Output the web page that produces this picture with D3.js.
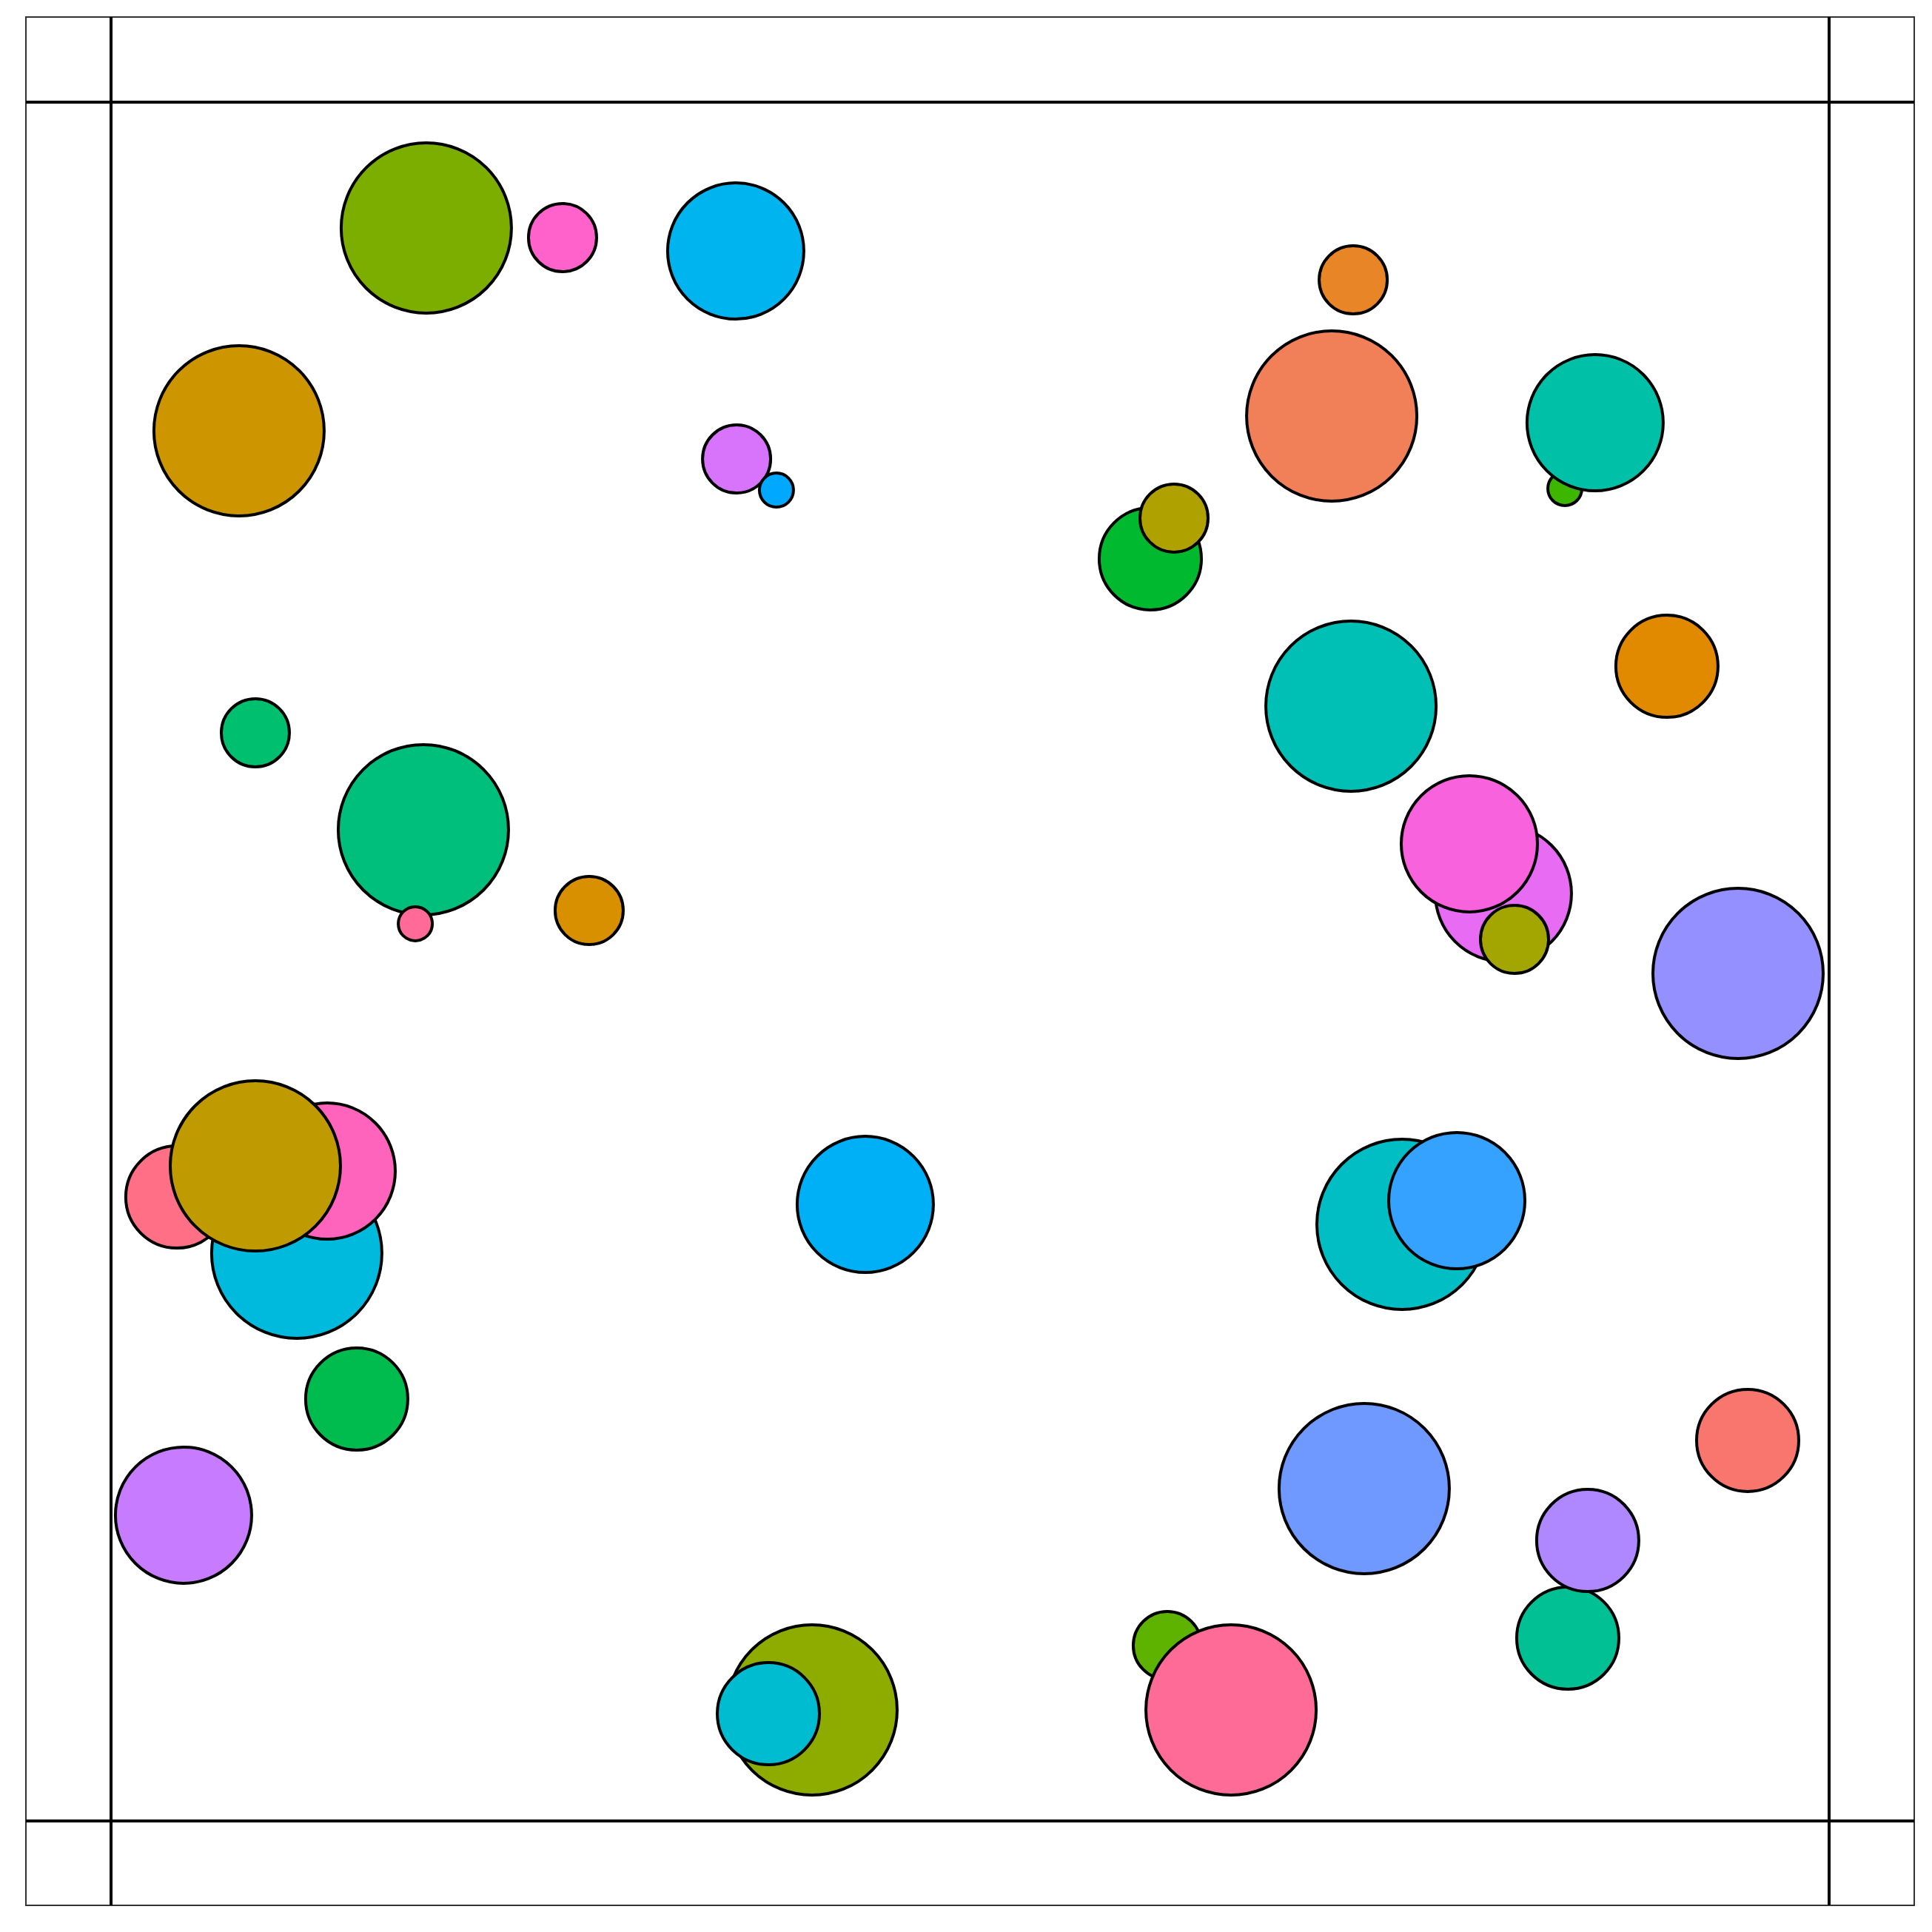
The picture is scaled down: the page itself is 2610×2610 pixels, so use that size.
<!DOCTYPE html>
<html>
<head>
<meta charset="utf-8">
<script src="https://cdn.jsdelivr.net/npm/d3@7"></script>
<style>
  html, body { margin: 0; padding: 0; background: #fff; }
  svg { display: block; }
</style>
</head>
<body>
<div id="chart"></div>
<script>
// ---- data ----
const ids = d3.range(1, 40).map(i => "p" + i);
const xValues = [18.35, 26.28, 36.36, 72.30, 7.45, 71.05, 84.62, 86.38, 36.41, 38.73,
                 60.49, 61.87, 90.56, 72.17, 8.40, 18.18, 17.71, 27.83, 81.04, 79.06,
                 81.69, 94.70, 3.83, 10.81, 12.58, 8.40, 43.90, 75.14, 78.33, 14.30,
                 4.22, 72.94, 95.26, 84.79, 85.95, 61.48, 65.19, 40.80, 38.26];
const yValues = [92.68, 92.12, 91.34, 89.66, 80.88, 81.74, 77.52, 81.35, 79.24, 77.43,
                 73.43, 75.80, 67.18, 64.86, 63.31, 57.67, 52.20, 52.97, 53.96, 56.85,
                 51.29, 49.31, 36.30, 33.03, 37.81, 38.11, 35.87, 34.71, 36.09, 24.55,
                 17.79, 19.34, 22.14, 10.64, 16.32, 10.21, 6.46, 6.46, 6.24];
const sizes   = [5, 2, 4, 2, 5, 5, 1, 4, 2, 1,
                 3, 2, 3, 5, 2, 5, 1, 2, 4, 4,
                 2, 5, 3, 5, 4, 5, 4, 5, 4, 3,
                 4, 5, 3, 3, 3, 2, 5, 5, 3];
const fills   = ["#7CAE00", "#FF62CB", "#00B4EF", "#E88526", "#CD9600", "#F17F58", "#3DB600", "#00C1A7", "#D874FC", "#00A9FF",
                 "#00B92E", "#AFA100", "#E18A00", "#00BFB5", "#00BF6E", "#00BF7D", "#FF6A98", "#D89000", "#E76BF3", "#F962DD",
                 "#A3A500", "#9590FF", "#FF7086", "#00BADD", "#FF64BC", "#BF9A00", "#00B0F6", "#00BEC4", "#35A2FF", "#00BB4E",
                 "#C77CFF", "#6F99FF", "#F8766D", "#00C094", "#AF87FF", "#5EB300", "#FF6B97", "#8EAB00", "#00BCD1"];

const data = ids.map((id, i) => ({ id, x: xValues[i], y: yValues[i], s: sizes[i], fill: fills[i] }));

// ---- layout ----
const W = 2610, H = 2610;
const outer = { x0: 35, y0: 23, x1: 2586, y1: 2574 };
const panel = { x0: 150, y0: 138, x1: 2471, y1: 2460 };

const svg = d3.select("#chart").append("svg")
  .attr("width", W).attr("height", H);

svg.append("rect").attr("width", W).attr("height", H).attr("fill", "#fff");

const x = d3.scaleLinear().domain([0, 100]).range([panel.x0, panel.x1]);
const y = d3.scaleLinear().domain([0, 100]).range([panel.y1, panel.y0]);
const r = d3.scaleLinear().domain([0, 5]).range([0, 115]);

// outer border
svg.append("rect")
  .attr("x", outer.x0).attr("y", outer.y0)
  .attr("width", outer.x1 - outer.x0).attr("height", outer.y1 - outer.y0)
  .attr("fill", "none").attr("stroke", "#333").attr("stroke-width", 2);

// circles
svg.append("g").selectAll("circle").data(data).join("circle")
  .attr("cx", d => x(d.x))
  .attr("cy", d => y(d.y))
  .attr("r", d => r(d.s))
  .attr("fill", d => d.fill)
  .attr("stroke", "#000")
  .attr("stroke-width", 4);

// frame lines spanning the whole outer box
const frame = svg.append("g").attr("stroke", "#000").attr("stroke-width", 4);
[x(0), x(100)].forEach(px => {
  frame.append("line").attr("x1", px).attr("x2", px).attr("y1", outer.y0).attr("y2", outer.y1);
});
[y(0), y(100)].forEach(py => {
  frame.append("line").attr("y1", py).attr("y2", py).attr("x1", outer.x0).attr("x2", outer.x1);
});
</script>
</body>
</html>
